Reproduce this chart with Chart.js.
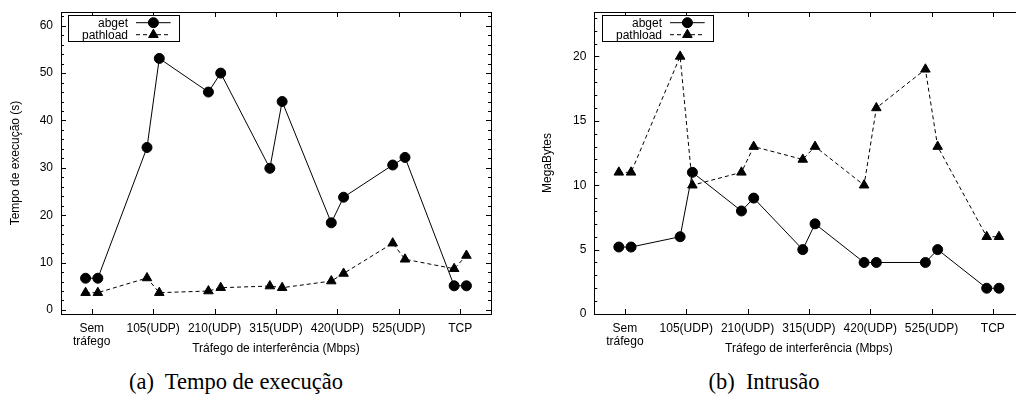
<!DOCTYPE html>
<html>
<head>
<meta charset="utf-8">
<script src="https://cdn.jsdelivr.net/npm/chart.js@4/dist/chart.umd.min.js"></script>
<style>
  html, body { margin: 0; padding: 0; background: #fff; overflow: hidden; width: 1016px; height: 399px; }
  .panel { position: absolute; top: 0; }
  #p1 { left: 0; }
  #p2 { left: 530px; }
  .cap { position: absolute; top: 369px; width: 300px; text-align: center; font: 22.5px "Liberation Serif", "Times New Roman", serif; line-height: 26px; color: #000; white-space: pre; }
</style>
</head>
<body>
<div class="panel" id="p1"><canvas id="c1" width="500" height="360"></canvas></div>
<div class="panel" id="p2"><canvas id="c2" width="500" height="360"></canvas></div>
<div class="cap" style="left:86px">(a)  Tempo de execução</div>
<div class="cap" style="left:614px">(b)  Intrusão</div>
<script>
// categories on the x axis (each has two runs, drawn side by side)
const categories = [["Sem", "tráfego"], "105(UDP)", "210(UDP)", "315(UDP)", "420(UDP)", "525(UDP)", "TCP"];
const pairOffsets = [-0.1, 0.1];

// (a) execution time, seconds
const abgetTime    = [[6.7, 6.7], [34.3, 53.1], [46.0, 50.0], [29.9, 44.0], [18.4, 23.8], [30.6, 32.2], [5.1, 5.1]];
const pathloadTime = [[3.65, 3.65], [6.75, 3.65], [4.0, 4.7], [5.05, 4.7], [6.1, 7.7], [14.1, 10.7], [8.7, 11.5]];
const timeTicks = [0, 10, 20, 30, 40, 50, 60];

// (b) intrusion, megabytes
const abgetIntrusion    = [[5.2, 5.2], [6, 11], [8, 9], [5, 7], [4, 4], [4, 5], [2, 2]];
const pathloadIntrusion = [[11, 11], [20, 10], [11, 13], [12, 13], [10, 16], [19, 13], [6, 6]];
const intrusionTicks = [0, 5, 10, 15, 20];

const FONT = '"Liberation Sans", Arial, Helvetica, sans-serif';

// gnuplot-like border with inward ticks (major + minor on y, mirrored)
const framePlugin = {
  id: 'frame',
  afterDraw(chart, args, opts) {
    const { ctx, chartArea: a, scales: { x, y } } = chart;
    ctx.save();
    ctx.strokeStyle = '#000';
    ctx.lineWidth = 1;
    ctx.strokeRect(Math.round(a.left) + 0.5, Math.round(a.top) + 0.5,
                   Math.round(a.right - a.left), Math.round(a.bottom - a.top));
    ctx.beginPath();
    x.ticks.forEach(t => {
      const px = Math.round(x.getPixelForValue(t.value)) + 0.5;
      ctx.moveTo(px, a.bottom); ctx.lineTo(px, a.bottom - 5);
      ctx.moveTo(px, a.top); ctx.lineTo(px, a.top + 5);
    });
    for (let v = 0; v <= y.max; v += opts.minorStep) {
      const py = Math.round(y.getPixelForValue(v)) + 0.5;
      const len = (v % opts.majorStep === 0) ? 5 : 3;
      ctx.moveTo(a.left, py); ctx.lineTo(a.left + len, py);
      ctx.moveTo(a.right, py); ctx.lineTo(a.right - len, py);
    }
    ctx.stroke();
    ctx.restore();
  }
};

// the key box in the top-left corner
const keyPlugin = {
  id: 'keyBox',
  afterDraw(chart, args, opts) {
    const { ctx, chartArea: a } = chart;
    const bx = a.left + opts.dx, by = a.top + 3.3;
    ctx.save();
    ctx.fillStyle = '#fff';
    ctx.fillRect(bx, by, 111.6, 26);
    ctx.strokeStyle = '#000';
    ctx.lineWidth = 1;
    ctx.strokeRect(Math.round(bx) + 0.5, Math.round(by) + 0.5, 111, 26);
    ctx.font = '12px ' + FONT;
    ctx.textAlign = 'right';
    ctx.textBaseline = 'middle';
    chart.data.datasets.forEach((ds, i) => {
      const ry = by + 7.4 + i * 12;
      ctx.fillStyle = '#000';
      ctx.fillText(ds.label, bx + 60.3, ry + 0.5);
      ctx.beginPath();
      ctx.setLineDash(ds.borderDash || []);
      ctx.moveTo(bx + 68.3, ry); ctx.lineTo(bx + 103, ry);
      ctx.stroke();
      ctx.setLineDash([]);
      Chart.helpers.drawPoint(ctx, { pointStyle: ds.pointStyle, radius: ds.pointRadius, rotation: 0, borderWidth: 1 }, bx + 85.7, ry);
    });
    ctx.restore();
  }
};

function series(label, pairs, dashed) {
  return {
    label,
    data: pairs.flatMap((p, i) => p.map((v, j) => ({ x: i + pairOffsets[j], y: v }))),
    borderColor: '#000',
    backgroundColor: '#000',
    borderWidth: 1,
    borderDash: dashed ? [4, 3] : [],
    pointStyle: dashed ? 'triangle' : 'circle',
    pointRadius: dashed ? 5.5 : 5,
    pointBorderWidth: 1,
    pointBackgroundColor: '#000',
    pointBorderColor: '#000',
    tension: 0
  };
}

function makeChart(id, cfg) {
  const tickFont = { family: FONT, size: 12 };
  return new Chart(document.getElementById(id), {
    type: 'line',
    data: { datasets: [series('abget', cfg.abget, false), series('pathload', cfg.pathload, true)] },
    plugins: [framePlugin, keyPlugin],
    options: {
      responsive: false,
      animation: false,
      devicePixelRatio: 1,
      layout: { padding: { left: 0, top: 12, right: cfg.padRight, bottom: 0 } },
      plugins: {
        legend: { display: false },
        tooltip: { enabled: false },
        frame: { minorStep: cfg.minorStep, majorStep: cfg.majorStep },
        keyBox: { dx: cfg.keyDx }
      },
      scales: {
        x: {
          type: 'linear', min: -0.5, max: 6.5,
          afterBuildTicks: s => { s.ticks = categories.map((c, i) => ({ value: i })); },
          afterFit: s => { s.height = 46; s.paddingLeft = 0; s.paddingRight = 0; },
          grid: { display: false, drawTicks: false },
          border: { display: false },
          ticks: { callback: v => categories[v], font: { ...tickFont, lineHeight: 1.1 }, color: '#000', padding: 7.7, maxRotation: 0, autoSkip: false },
          title: { display: true, text: 'Tráfego de interferência (Mbps)', font: tickFont, color: '#000', padding: { top: 0, bottom: 3.8 } }
        },
        y: {
          min: cfg.yMin, max: cfg.yMax,
          afterBuildTicks: s => { s.ticks = cfg.yTicks.map(v => ({ value: v })); },
          afterFit: s => { s.width = cfg.yWidth; s.paddingTop = 0; s.paddingBottom = 0; },
          grid: { display: false, drawTicks: false },
          border: { display: false },
          ticks: { font: tickFont, color: '#000', padding: 8 },
          title: { display: true, text: cfg.yTitle, font: tickFont, color: '#000', padding: { top: cfg.titlePad, bottom: 0 } }
        }
      }
    }
  });
}

makeChart('c1', {
  abget: abgetTime, pathload: pathloadTime, yTicks: timeTicks,
  yMin: -0.85, yMax: 62.9, yWidth: 61, padRight: 9, titlePad: 8.8,
  minorStep: 2, majorStep: 10, keyDx: 6.7, yTitle: 'Tempo de execução (s)'
});

makeChart('c2', {
  abget: abgetIntrusion, pathload: pathloadIntrusion, yTicks: intrusionTicks,
  yMin: 0, yMax: 23.45, yWidth: 64.3, padRight: 5.2, titlePad: 10.8,
  minorStep: 1, majorStep: 5, keyDx: 7.4, yTitle: 'MegaBytes'
});
</script>
</body>
</html>
